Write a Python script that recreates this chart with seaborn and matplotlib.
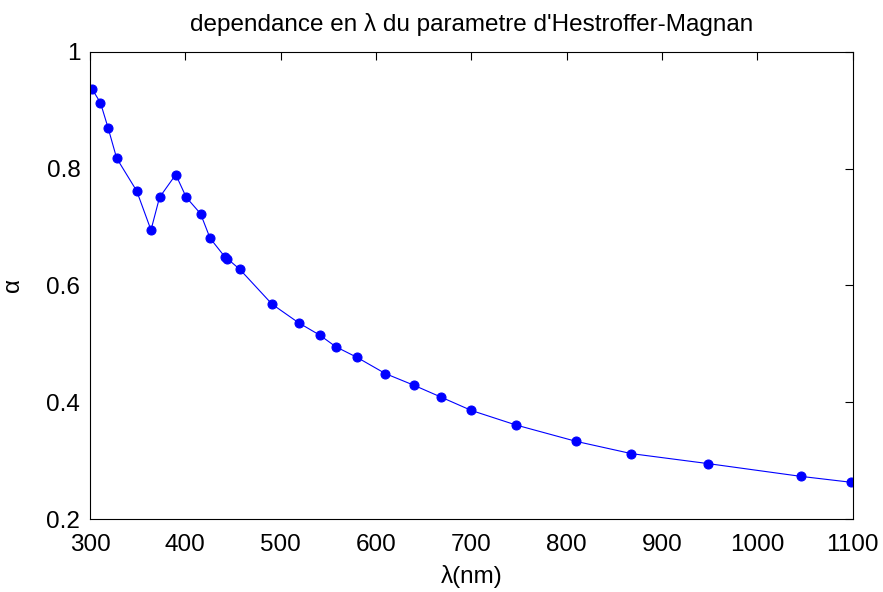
import matplotlib
matplotlib.use("Agg")
import matplotlib.pyplot as plt
import seaborn as sns
import pandas as pd

# Wavelengths (nm) and Hestroffer-Magnan parameter alpha
wavelength_nm = [302, 311, 319, 328, 349, 364, 373, 390, 401, 416, 426,
                 442, 444, 457, 491, 519, 541, 558, 580, 610, 640, 668,
                 700, 747, 810, 868, 948, 1046, 1098]
alpha = [0.937, 0.913, 0.870, 0.818, 0.762, 0.695, 0.751, 0.790, 0.751,
         0.723, 0.681, 0.648, 0.646, 0.628, 0.568, 0.536, 0.515, 0.495,
         0.477, 0.449, 0.429, 0.409, 0.386, 0.361, 0.333, 0.312, 0.295,
         0.273, 0.263]

x_ticks = [300, 400, 500, 600, 700, 800, 900, 1000, 1100]
y_ticks = [0.2, 0.4, 0.6, 0.8, 1.0]
y_tick_labels = ["0.2", "0.4", "0.6", "0.8", "1"]

sns.set_style("white")
plt.rcParams["font.family"] = ["Liberation Sans", "DejaVu Sans"]
plt.rcParams["text.color"] = "black"
plt.rcParams["axes.labelcolor"] = "black"

df = pd.DataFrame({"wavelength": wavelength_nm, "alpha": alpha})

fig = plt.figure(figsize=(8.83, 5.92), dpi=100)
ax = fig.add_axes([0.1019, 0.1233, 0.8636, 0.7889])

sns.lineplot(data=df, x="wavelength", y="alpha", ax=ax, color="#0000ff",
             linewidth=0.8, marker="o", markersize=6.5,
             markeredgecolor="#0000ff", sort=False, errorbar=None)

ax.set_xlim(300, 1100)
ax.set_ylim(0.2, 1.0)
ax.set_xticks(x_ticks)
ax.set_xticklabels([str(t) for t in x_ticks])
ax.set_yticks(y_ticks)
ax.set_yticklabels(y_tick_labels)

ax.tick_params(direction="in", length=6, width=0.8, colors="black",
               labelcolor="black", labelsize=17.5, top=True, right=True)
ax.tick_params(axis="x", pad=11)
ax.tick_params(axis="y", pad=7)
for side in ["left", "right", "top", "bottom"]:
    ax.spines[side].set_visible(True)
    ax.spines[side].set_color("black")
    ax.spines[side].set_linewidth(0.8)

ax.set_xlabel("λ(nm)", fontsize=17.5, labelpad=6, color="black")
ax.set_ylabel("α", fontsize=17.5, labelpad=16, color="black")
ax.set_title("dependance en λ du parametre d'Hestroffer-Magnan",
             fontsize=17.5, pad=15, color="black")

fig.savefig("out.png", dpi=100, facecolor="white")
